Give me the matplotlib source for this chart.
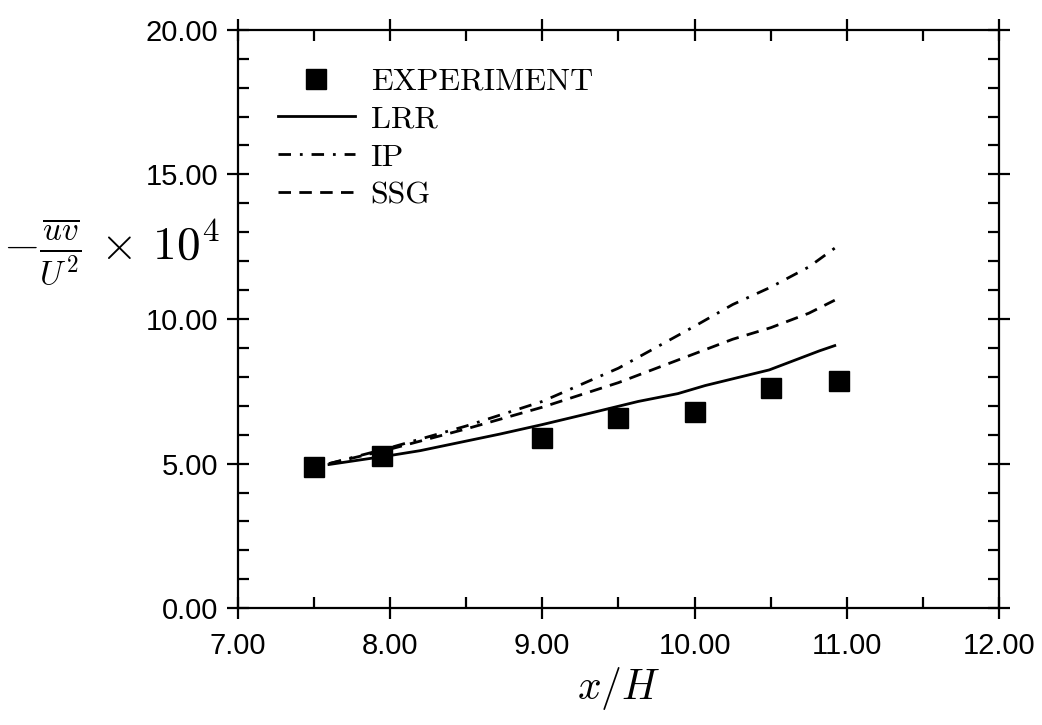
import numpy as np
import matplotlib.pyplot as plt
from matplotlib.ticker import MultipleLocator, FormatStrFormatter

plt.rcParams['mathtext.fontset'] = 'cm'

# measured shear stress
x_exp = [7.5, 7.95, 9.0, 9.5, 10.0, 10.5, 10.95]
uv_exp = [4.9, 5.25, 5.87, 6.58, 6.77, 7.62, 7.87]

# model predictions
x_lrr = [7.6, 8.0, 8.2, 8.72, 9.0, 9.31, 9.63, 9.89, 10.07, 10.49, 10.67, 10.82, 10.92]
uv_lrr = [4.97, 5.28, 5.45, 6.02, 6.35, 6.74, 7.15, 7.42, 7.70, 8.24, 8.60, 8.90, 9.08]

x_ip = [7.6, 8.0, 8.5, 9.0, 9.5, 10.0, 10.25, 10.5, 10.75, 10.92]
uv_ip = [5.0, 5.55, 6.3, 7.15, 8.3, 9.75, 10.5, 11.1, 11.8, 12.45]

x_ssg = [7.6, 8.0, 8.5, 9.0, 9.5, 10.0, 10.25, 10.5, 10.75, 10.92]
uv_ssg = [5.0, 5.5, 6.2, 6.95, 7.8, 8.8, 9.3, 9.7, 10.2, 10.65]

fig = plt.figure(figsize=(10.42, 7.25), dpi=100)
ax = fig.add_axes([0.228, 0.161, 0.731, 0.798])

ax.plot(x_exp, uv_exp, 's', color='black', markersize=14, label='EXPERIMENT')
ax.plot(x_lrr, uv_lrr, '-', color='black', lw=2.0, label='LRR')
ax.plot(x_ip, uv_ip, color='black', lw=2.0, dashes=(4.5, 3.2, 1, 3.2), label='IP')
ax.plot(x_ssg, uv_ssg, color='black', lw=2.0, dashes=(4.5, 3), label='SSG')

ax.set_xlim(7, 12)
ax.set_ylim(0, 20)

for s in ax.spines.values():
    s.set_linewidth(1.6)

ax.xaxis.set_major_locator(MultipleLocator(1))
ax.xaxis.set_minor_locator(MultipleLocator(0.5))
ax.yaxis.set_major_locator(MultipleLocator(5))
ax.yaxis.set_minor_locator(MultipleLocator(1))
ax.xaxis.set_major_formatter(FormatStrFormatter('%.2f'))
ax.yaxis.set_major_formatter(FormatStrFormatter('%.2f'))

ax.tick_params(which='major', direction='inout', length=16, width=1.6,
               top=True, right=True)
ax.tick_params(which='minor', direction='in', length=8, width=1.6,
               top=True, right=True)
ax.tick_params(axis='x', which='major', labelsize=21, pad=9)
ax.tick_params(axis='y', which='major', labelsize=21, pad=6)
for lab in ax.get_xticklabels() + ax.get_yticklabels():
    lab.set_fontfamily('Liberation Sans')

leg = ax.legend(loc='upper left', bbox_to_anchor=(0.053, 0.935), frameon=False,
                prop={'family': 'cmr10', 'size': 23}, handlelength=2.4,
                handletextpad=0.5, labelspacing=0.3, borderpad=0,
                borderaxespad=0, numpoints=1)

ax.set_xlabel('$x/H$', fontsize=30, labelpad=4)
fig.text(0.003, 1 - 252 / 725, r'$-\frac{\overline{uv}}{U^2}\,\times\,10^4$',
         fontsize=34, ha='left', va='center')

fig.savefig('out.png', dpi=100)
